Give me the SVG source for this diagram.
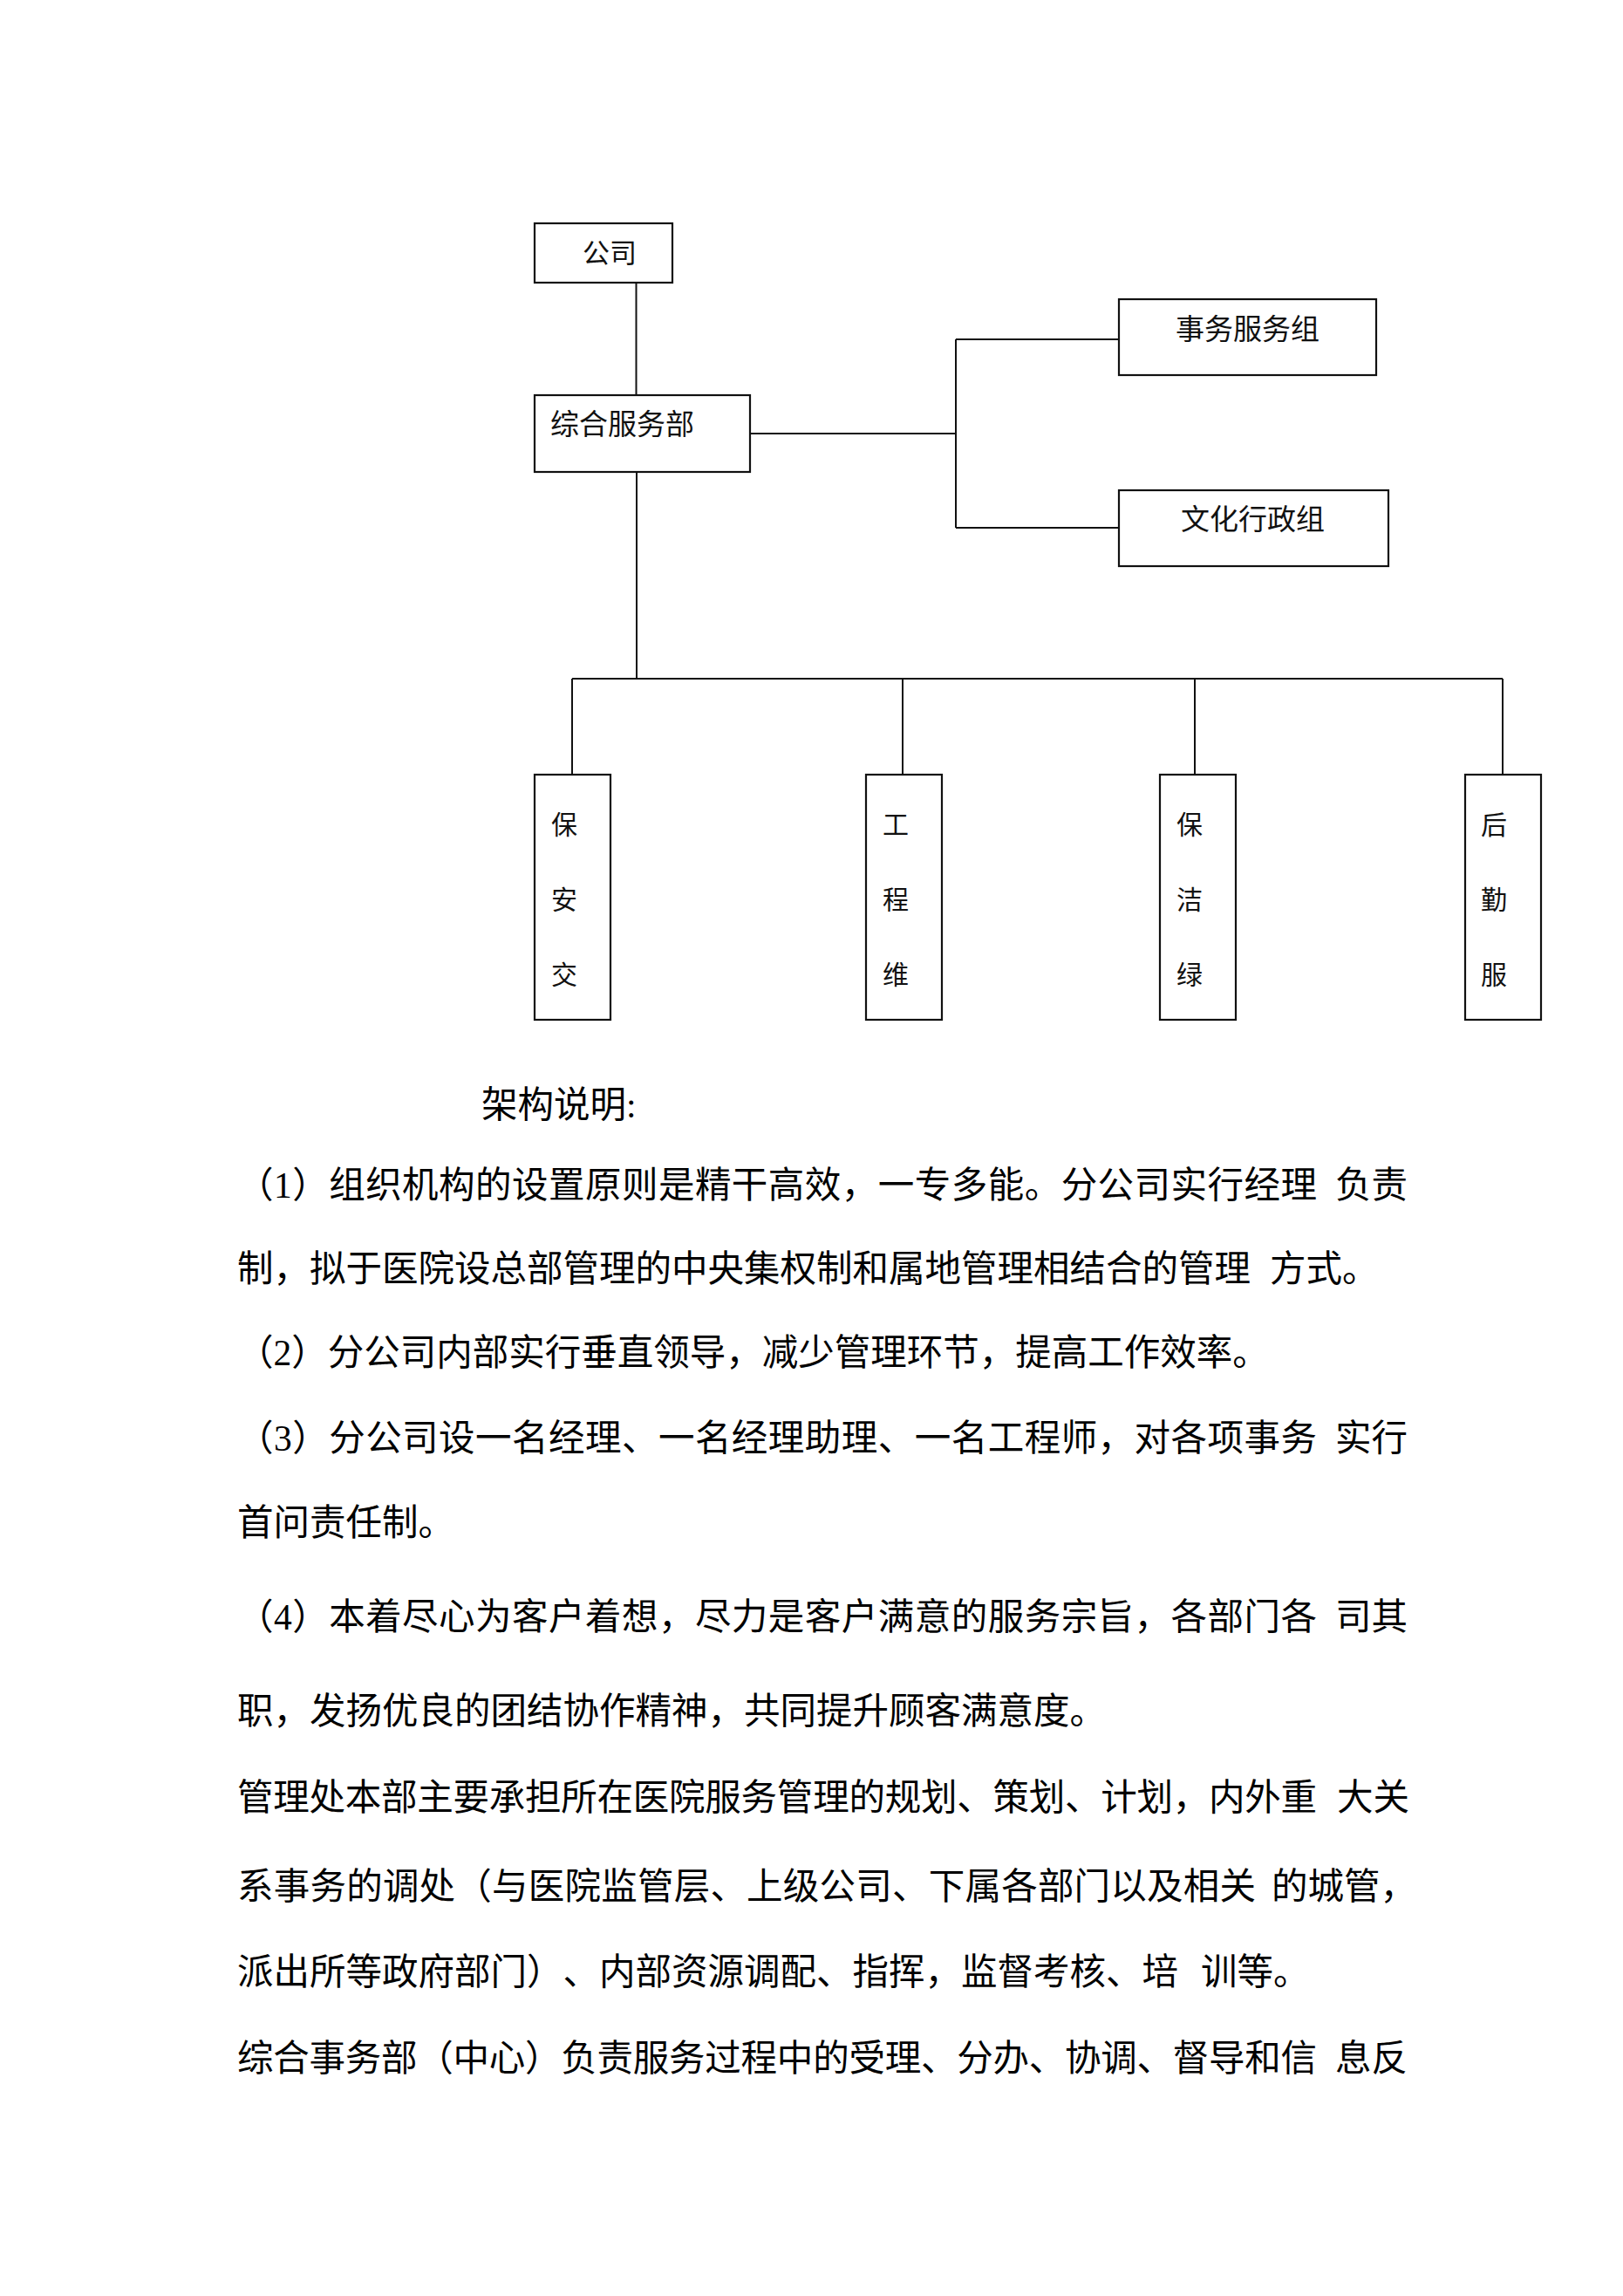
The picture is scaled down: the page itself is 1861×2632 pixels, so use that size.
<svg xmlns="http://www.w3.org/2000/svg" width="1861" height="2632" viewBox="0 0 1861 2632">
<style>
.bg{fill:#ffffff}
.box{fill:#ffffff;stroke:#111;stroke-width:2.2}
.con{fill:none;stroke:#111;stroke-width:2}
.lbl{font-family:'Liberation Serif','Noto Sans CJK SC',serif;fill:#111}
.vl{font-family:'Liberation Serif','Noto Sans CJK SC',serif;fill:#111;font-size:30px;text-anchor:middle}
.p{font-family:'Liberation Serif','Noto Sans CJK SC',serif;fill:#000;font-size:41.5px;text-spacing-trim:space-all}
</style>
<rect class="bg" x="0" y="0" width="1861" height="2632"/>
<g id="connectors">
<line class="con" x1="729.5" y1="324" x2="729.5" y2="453"/>
<line class="con" x1="860" y1="497" x2="1096" y2="497"/>
<line class="con" x1="1096" y1="389" x2="1096" y2="605"/>
<line class="con" x1="1096" y1="389" x2="1283" y2="389"/>
<line class="con" x1="1096" y1="605" x2="1283" y2="605"/>
<line class="con" x1="730" y1="541" x2="730" y2="778"/>
<line class="con" x1="656" y1="778" x2="1723" y2="778"/>
<line class="con" x1="656" y1="778" x2="656" y2="888"/>
<line class="con" x1="1035" y1="778" x2="1035" y2="888"/>
<line class="con" x1="1370" y1="778" x2="1370" y2="888"/>
<line class="con" x1="1723" y1="778" x2="1723" y2="888"/>
</g>
<g id="node-gongsi">
<rect class="box" x="613" y="256" width="158" height="68"/>
<text class="lbl" x="668" y="301" font-size="31">公司</text>
</g>
<g id="node-zonghe">
<rect class="box" x="613" y="453" width="247" height="88"/>
<text class="lbl" x="631" y="498" font-size="33">综合服务部</text>
</g>
<g id="node-shiwu">
<rect class="box" x="1283" y="343" width="295" height="87"/>
<text class="lbl" x="1348" y="389" font-size="33">事务服务组</text>
</g>
<g id="node-wenhua">
<rect class="box" x="1283" y="562" width="309" height="87"/>
<text class="lbl" x="1354" y="607" font-size="33">文化行政组</text>
</g>
<g id="node-baoan">
<rect class="box" x="613" y="888" width="87" height="281"/>
<text class="vl" x="647" y="956">保</text>
<text class="vl" x="647" y="1042">安</text>
<text class="vl" x="647" y="1128">交</text>
</g>
<g id="node-gongcheng">
<rect class="box" x="993" y="888" width="87" height="281"/>
<text class="vl" x="1027" y="956">工</text>
<text class="vl" x="1027" y="1042">程</text>
<text class="vl" x="1027" y="1128">维</text>
</g>
<g id="node-baojie">
<rect class="box" x="1330" y="888" width="87" height="281"/>
<text class="vl" x="1364" y="956">保</text>
<text class="vl" x="1364" y="1042">洁</text>
<text class="vl" x="1364" y="1128">绿</text>
</g>
<g id="node-houqin">
<rect class="box" x="1680" y="888" width="87" height="281"/>
<text class="vl" x="1713" y="956">后</text>
<text class="vl" x="1713" y="1042">勤</text>
<text class="vl" x="1713" y="1128">服</text>
</g>
<g id="body-text">
<text class="p" x="552" y="1281" font-size="40">架构说明:</text>
<text class="p" x="272" y="1373" textLength="1238" lengthAdjust="spacing">（1）组织机构的设置原则是精干高效，一专多能。分公司实行经理</text>
<text class="p" x="1531" y="1373">负责</text>
<text class="p" x="272" y="1469">制，拟于医院设总部管理的中央集权制和属地管理相结合的管理</text>
<text class="p" x="1456" y="1469">方式。</text>
<text class="p" x="272" y="1565">（2）分公司内部实行垂直领导，减少管理环节，提高工作效率。</text>
<text class="p" x="272" y="1663" textLength="1238" lengthAdjust="spacing">（3）分公司设一名经理、一名经理助理、一名工程师，对各项事务</text>
<text class="p" x="1531" y="1663">实行</text>
<text class="p" x="272" y="1760">首问责任制。</text>
<text class="p" x="272" y="1868" textLength="1238" lengthAdjust="spacing">（4）本着尽心为客户着想，尽力是客户满意的服务宗旨，各部门各</text>
<text class="p" x="1531" y="1868">司其</text>
<text class="p" x="272" y="1976">职，发扬优良的团结协作精神，共同提升顾客满意度。</text>
<text class="p" x="272" y="2075" textLength="1238" lengthAdjust="spacing">管理处本部主要承担所在医院服务管理的规划、策划、计划，内外重</text>
<text class="p" x="1533" y="2075">大关</text>
<text class="p" x="272" y="2177" textLength="1168" lengthAdjust="spacing">系事务的调处（与医院监管层、上级公司、下属各部门以及相关</text>
<text class="p" x="1458" y="2177">的城管，</text>
<text class="p" x="272" y="2275">派出所等政府部门）、内部资源调配、指挥，监督考核、培</text>
<text class="p" x="1377" y="2275">训等。</text>
<text class="p" x="272" y="2374" textLength="1238" lengthAdjust="spacing">综合事务部（中心）负责服务过程中的受理、分办、协调、督导和信</text>
<text class="p" x="1531" y="2374">息反</text>
</g>
</svg>
